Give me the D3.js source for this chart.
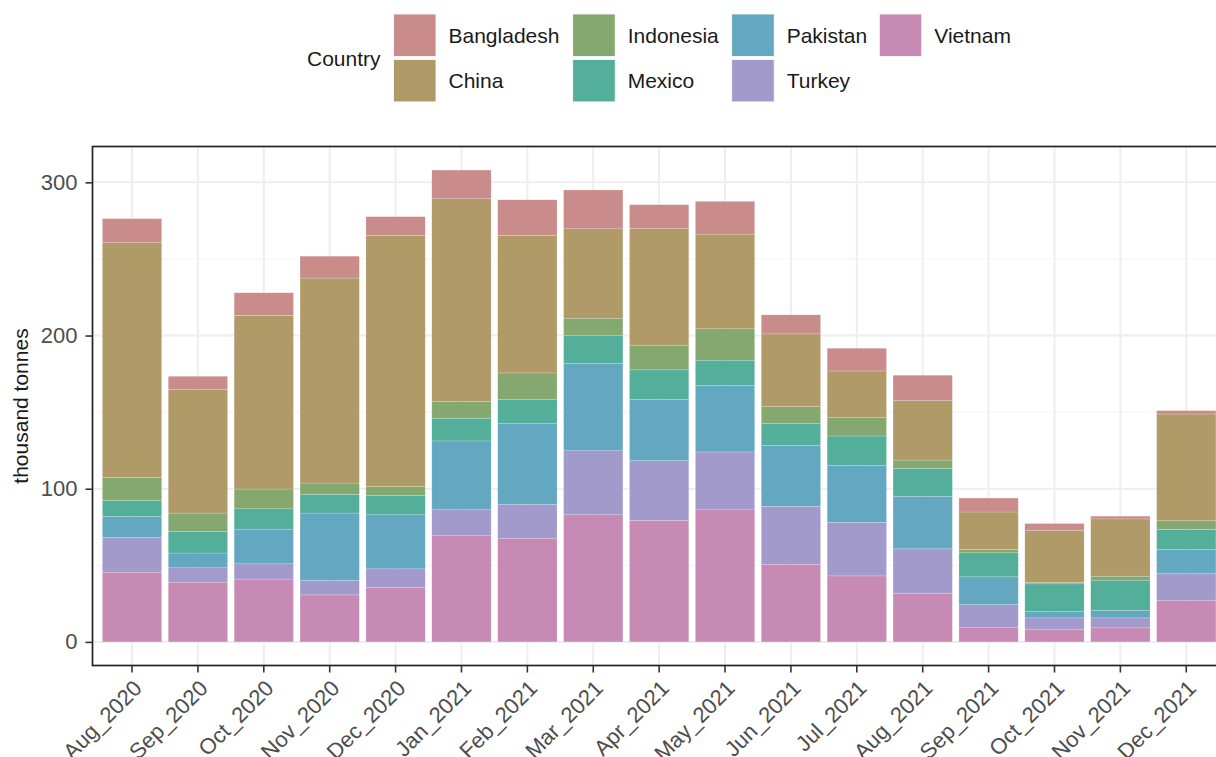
<!DOCTYPE html>
<html>
<head>
<meta charset="utf-8">
<script src="https://cdn.jsdelivr.net/npm/d3@7"></script>
<style>
  html, body { margin: 0; padding: 0; background: #fff; }
  svg { display: block; font-family: "Liberation Sans", Arial, sans-serif; }
</style>
</head>
<body>
<svg id="chart" width="1216" height="757"></svg>
<script>
// ---- data ----
const months = ["Aug_2020","Sep_2020","Oct_2020","Nov_2020","Dec_2020","Jan_2021","Feb_2021","Mar_2021","Apr_2021","May_2021","Jun_2021","Jul_2021","Aug_2021","Sep_2021","Oct_2021","Nov_2021","Dec_2021"];
const countries = ["Bangladesh","China","Indonesia","Mexico","Pakistan","Turkey","Vietnam"];
const Vietnam    = [45.5, 39.0, 41.0, 30.7, 35.5, 69.3, 67.7, 83.0, 79.3, 86.7, 50.7, 43.1, 31.8,  9.6,  8.3,  9.2, 27.2];
const Turkey     = [22.7,  9.4, 10.0,  9.4, 12.2, 17.4, 22.0, 41.8, 39.0, 37.3, 37.8, 34.9, 29.0, 14.8,  7.4,  6.5, 17.7];
const Pakistan   = [13.7,  9.6, 22.6, 44.0, 35.3, 44.5, 52.8, 57.1, 40.1, 43.5, 39.8, 37.2, 34.2, 18.1,  4.1,  4.8, 15.4];
const Mexico     = [10.5, 14.1, 13.3, 12.2, 12.6, 14.8, 15.7, 18.3, 19.2, 16.4, 14.4, 19.2, 18.3, 15.7, 18.1, 19.8, 13.1];
const Indonesia  = [15.0, 12.0, 12.9,  7.4,  5.9, 10.9, 17.4, 11.1, 16.1, 20.5, 10.9, 12.0,  5.4,  2.1,  0.9,  2.6,  5.7];
const China      = [153.2, 80.6, 113.3, 133.8, 163.9, 132.4, 89.7, 58.4, 76.2, 61.8, 47.5, 30.5, 38.8, 24.5, 33.9, 37.4, 69.7];
const Bangladesh = [15.7,  8.7, 14.8, 14.3, 12.2, 18.7, 23.3, 25.3, 15.5, 21.4, 12.4, 14.8, 16.6,  9.1,  4.6,  1.8,  2.2];
const yTicks = [0, 100, 200, 300];
const yMinor = [50, 150, 250];
const colors = ["#C98C8A","#AF9A68","#85A870","#53AE9A","#64A7C0","#A19ACB","#C68AB4"];

// ---- build table ----
const seriesValues = { Bangladesh, China, Indonesia, Mexico, Pakistan, Turkey, Vietnam };
const table = months.map((m, i) => {
  const row = { month: m };
  countries.forEach(c => row[c] = seriesValues[c][i]);
  return row;
});
const stackOrder = ["Vietnam","Turkey","Pakistan","Mexico","Indonesia","China","Bangladesh"];
const stacked = d3.stack().keys(stackOrder)(table);
const color = d3.scaleOrdinal().domain(countries).range(colors);

// ---- layout ----
const svg = d3.select("#chart");
const panel = { left: 92.5, right: 1225.8, top: 146.5, bottom: 665.5 };
const maxTotal = d3.max(table, r => d3.sum(countries, c => r[c]));

const x = d3.scaleBand().domain(months).range([panel.left, panel.right])
  .paddingInner(0.1).paddingOuter(0.15).align(0.5);
const y = d3.scaleLinear().domain([-0.05 * maxTotal, 1.05 * maxTotal]).range([panel.bottom, panel.top]);

// grid
const grid = svg.append("g");
grid.selectAll("line.minor").data(yMinor).join("line")
  .attr("x1", panel.left).attr("x2", panel.right)
  .attr("y1", d => y(d)).attr("y2", d => y(d))
  .attr("stroke", "#F4F4F4").attr("stroke-width", 1);
grid.selectAll("line.majy").data(yTicks).join("line")
  .attr("x1", panel.left).attr("x2", panel.right)
  .attr("y1", d => y(d)).attr("y2", d => y(d))
  .attr("stroke", "#EEEEEE").attr("stroke-width", 2);
grid.selectAll("line.majx").data(months).join("line")
  .attr("x1", d => x(d) + x.bandwidth() / 2).attr("x2", d => x(d) + x.bandwidth() / 2)
  .attr("y1", panel.top).attr("y2", panel.bottom)
  .attr("stroke", "#EEEEEE").attr("stroke-width", 2);

// bars
svg.append("g").selectAll("g").data(stacked).join("g")
  .attr("fill", d => color(d.key))
  .selectAll("rect").data(d => d).join("rect")
  .attr("x", d => x(d.data.month))
  .attr("width", x.bandwidth())
  .attr("y", d => y(d[1]))
  .attr("height", d => y(d[0]) - y(d[1]))
  .attr("stroke", "#ffffff").attr("stroke-opacity", 0.3).attr("stroke-width", 0.6);

// panel border
svg.append("rect")
  .attr("x", panel.left).attr("y", panel.top)
  .attr("width", panel.right - panel.left).attr("height", panel.bottom - panel.top)
  .attr("fill", "none").attr("stroke", "#222").attr("stroke-width", 1.7);

// y axis
const yAxis = svg.append("g")
  .attr("transform", `translate(${panel.left},0)`)
  .call(d3.axisLeft(y).tickValues(yTicks).tickSize(7).tickPadding(8).tickFormat(d3.format("d")));
yAxis.select(".domain").remove();
yAxis.selectAll(".tick line").attr("stroke", "#333").attr("stroke-width", 1.6);
yAxis.selectAll(".tick text").attr("fill", "#4D4D4D").style("font-size", "22px")
  .style("font-family", "'Liberation Sans', Arial, sans-serif");

// x axis
const xAxis = svg.append("g")
  .attr("transform", `translate(0,${panel.bottom})`)
  .call(d3.axisBottom(x).tickSize(7).tickPadding(0));
xAxis.select(".domain").remove();
xAxis.selectAll(".tick line").attr("stroke", "#333").attr("stroke-width", 1.6);
xAxis.selectAll(".tick text")
  .attr("fill", "#4D4D4D").style("font-size", "22px")
  .style("font-family", "'Liberation Sans', Arial, sans-serif")
  .attr("text-anchor", "end")
  .attr("y", 0).attr("dy", "0.72em")
  .attr("transform", "translate(0,13) rotate(-45)");

// y axis title
svg.append("text")
  .attr("transform", `translate(28,${(panel.top + panel.bottom) / 2}) rotate(-90)`)
  .attr("text-anchor", "middle")
  .style("font-size", "21px").attr("fill", "#1a1a1a")
  .text("thousand tonnes");

// legend
const legend = svg.append("g");
legend.append("text").attr("x", 307).attr("y", 66)
  .style("font-size", "21px").attr("fill", "#1a1a1a").text("Country");
const colX = [393.5, 572.7, 731.7, 879.3];
const keySize = 42.5, rowStep = 45.4, keyTop = 14;
countries.forEach((c, i) => {
  const col = Math.floor(i / 2), row = i % 2;
  const kx = colX[col], ky = keyTop + row * rowStep;
  legend.append("rect").attr("x", kx).attr("y", ky)
    .attr("width", keySize).attr("height", keySize)
    .attr("fill", color(c)).attr("stroke", "#ffffff").attr("stroke-width", 0.8);
  legend.append("text").attr("x", kx + 55).attr("y", ky + keySize / 2 + 7.5)
    .style("font-size", "21px").attr("fill", "#1a1a1a").text(c);
});
</script>
</body>
</html>
